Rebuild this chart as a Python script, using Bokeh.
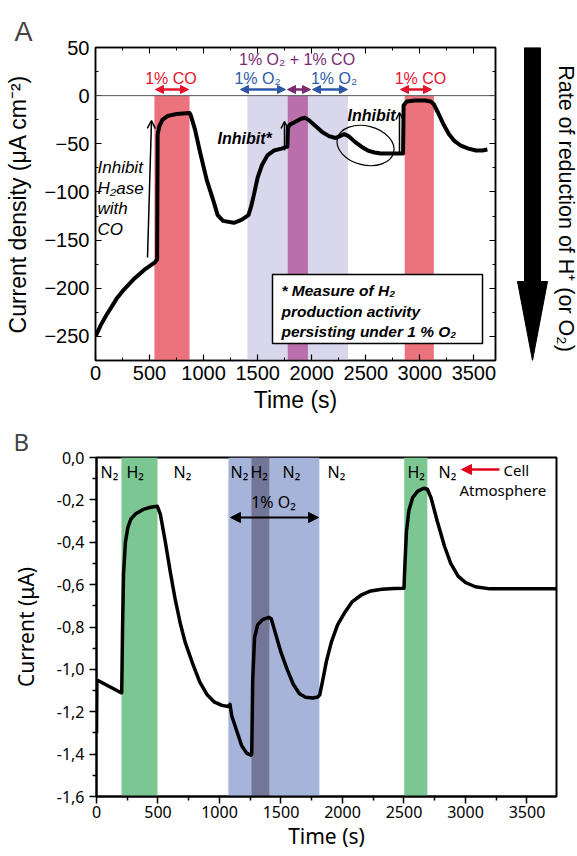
import math
from bokeh.plotting import figure
from bokeh.layouts import column, row
from bokeh.core.properties import value
from bokeh.models import (Range1d, LinearAxis, FixedTicker, CustomJSTickFormatter,
                          Label, Arrow, NormalHead, OpenHead, BoxAnnotation, Span)
from bokeh.embed import file_html
from bokeh.resources import INLINE

# ---------------- Panel A data ----------------
time_a = [0, 50, 100, 150, 200, 250, 300, 350, 400, 450, 500, 550, 570, 575, 590, 620, 670,
          750, 870, 880, 920, 970, 1030, 1090, 1130, 1180, 1280, 1350, 1415, 1440, 1465,
          1500, 1540, 1590, 1650, 1720, 1775, 1780, 1800, 1850, 1900, 1940, 1980, 2040,
          2100, 2160, 2220, 2260, 2300, 2340, 2400, 2460, 2520, 2580, 2640, 2720, 2800,
          2845, 2850, 2880, 2950, 3050, 3100, 3130, 3170, 3220, 3270, 3320, 3380, 3450,
          3520, 3580, 3625]
current_a = [-250, -238, -228, -219, -210, -203, -197, -191, -186, -181, -177, -173, -170,
             -40, -32, -25, -21, -19, -18, -20, -35, -60, -88, -109, -124, -130, -132, -129,
             -124, -115, -103, -85, -72, -62, -57, -55, -53, -33, -30, -27, -24, -23, -26,
             -32, -38, -42, -44, -42, -40, -42, -48, -53, -57, -59, -60, -60, -60, -60, -10,
             -6, -5, -5, -6, -9, -18, -30, -40, -47, -52, -55, -57, -57, -56]
co_start = [545, 2860]
co_end = [870, 3130]
o2_start = [1405, 1965]
o2_end = [1777, 2335]
mix_start = [1777]
mix_end = [1965]
a_xticks = [0, 500, 1000, 1500, 2000, 2500, 3000, 3500]
a_xminor = [250, 750, 1250, 1750, 2250, 2750, 3250]
a_yticks = [50, 0, -50, -100, -150, -200, -250]
a_yminor = [25, -25, -75, -125, -175, -225]

# ---------------- Panel B data ----------------
time_b = [0, 3, 20, 100, 200, 205, 212, 220, 235, 255, 280, 320, 380, 440, 495, 520, 560,
          600, 640, 680, 720, 780, 840, 900, 960, 1020, 1070, 1085, 1100, 1140, 1180, 1220,
          1255, 1262, 1270, 1285, 1310, 1350, 1400, 1420, 1460, 1500, 1550, 1600, 1650,
          1700, 1760, 1800, 1815, 1840, 1870, 1910, 1960, 2020, 2080, 2150, 2230, 2320,
          2420, 2500, 2508, 2520, 2540, 2570, 2610, 2660, 2690, 2720, 2770, 2830, 2880,
          2940, 3000, 3080, 3200, 3400, 3600, 3740]
current_b = [-1.30, -1.05, -1.055, -1.08, -1.11, -1.11, -0.80, -0.55, -0.40, -0.33, -0.29,
             -0.265, -0.245, -0.235, -0.23, -0.27, -0.40, -0.54, -0.67, -0.78, -0.87, -0.97,
             -1.06, -1.12, -1.155, -1.17, -1.175, -1.165, -1.22, -1.29, -1.36, -1.395,
             -1.405, -1.40, -1.05, -0.85, -0.79, -0.765, -0.755, -0.76, -0.84, -0.92, -1.00,
             -1.07, -1.115, -1.132, -1.135, -1.13, -1.12, -1.05, -0.96, -0.87, -0.79, -0.73,
             -0.68, -0.65, -0.63, -0.622, -0.618, -0.617, -0.50, -0.35, -0.25, -0.19, -0.16,
             -0.145, -0.15, -0.19, -0.30, -0.42, -0.50, -0.56, -0.59, -0.61, -0.62, -0.62,
             -0.62, -0.62]
h2_start = [203, 2502]
h2_end = [496, 2690]
o2b_start = [1072]
o2b_end = [1812]
h2o2_start = [1260]
h2o2_end = [1405]
b_xticks = [0, 500, 1000, 1500, 2000, 2500, 3000, 3500]
b_xminor = [250, 750, 1250, 1750, 2250, 2750, 3250]
b_yticks = [0.0, -0.2, -0.4, -0.6, -0.8, -1.0, -1.2, -1.4, -1.6]
b_yminor = [-0.1, -0.3, -0.5, -0.7, -0.9, -1.1, -1.3, -1.5]

# ---------------- layout geometry ----------------
XA0, XA1, YA0, YA1 = 0, 3700, -275, 50
A_L, A_T, A_W, A_H = 95, 47, 400, 313
A_TOTAL_H = 422
A_RIGHT_BORDER = 2
SIDE_W = 577 - A_L - A_W - A_RIGHT_BORDER
XB0, XB1, YB0, YB1 = 0, 3740, -1.6, 0.0
B_L, B_T, B_W = 96, 456, 460
B_BOTTOM_BORDER = 61
B_H = 856 - B_T - B_BOTTOM_BORDER


def ax(px):
    return XA0 + (px - A_L) / A_W * (XA1 - XA0)


def ay(py):
    return YA1 - (py - A_T) / A_H * (YA1 - YA0)


def bx(px):
    return XB0 + (px - B_L) / B_W * (XB1 - XB0)


def by(py):
    return YB1 - (py - B_T) / B_H * (YB1 - YB0)


FA = "Liberation Sans"
FB = "Noto Sans"
RED_BAND = "#eb737d"
LAV_BAND = "#d9d7eb"
MIX_BAND = "#b96fab"
RED_TXT = "#e3142b"
BLUE_TXT = "#2d58a8"
PURP_TXT = "#7b2a6f"
EMPTY = CustomJSTickFormatter(code="return '';")

# ================= Panel A =================
pA = figure(frame_width=A_W, frame_height=A_H, output_backend="svg", toolbar_location=None,
            x_range=Range1d(XA0, XA1), y_range=Range1d(YA0, YA1),
            min_border_left=A_L, min_border_right=A_RIGHT_BORDER,
            min_border_top=A_T, min_border_bottom=A_TOTAL_H - A_T - A_H)
pA.xgrid.grid_line_color = None
pA.ygrid.grid_line_color = None
pA.outline_line_color = "black"
pA.outline_line_width = 1.5
pA.background_fill_color = "white"
pA.border_fill_color = "white"
pA.title.text = "A"
pA.title.text_font = FA
pA.title.text_font_size = "27px"
pA.title.text_font_style = "normal"
pA.title.align = "left"
pA.title.offset = 14 - A_L
pA.title.standoff = 2

pA.quad(left=co_start, right=co_end, bottom=YA0, top=0, fill_color=RED_BAND, line_color=None)
pA.quad(left=o2_start, right=o2_end, bottom=YA0, top=0, fill_color=LAV_BAND, line_color=None)
pA.quad(left=mix_start, right=mix_end, bottom=YA0, top=0, fill_color=MIX_BAND, line_color=None)
pA.add_layout(Span(location=0, dimension="width", line_color="#555555", line_width=1))
pA.line(time_a, current_a, line_color="black", line_width=4, line_join="round")

for axis in (pA.xaxis[0], pA.yaxis[0]):
    axis.major_tick_in = 6
    axis.major_tick_out = 0
    axis.minor_tick_in = 3
    axis.minor_tick_out = 0
    axis.axis_line_width = 1.5
    axis.major_tick_line_width = 1.2
    axis.major_label_text_font = FA
    axis.major_label_text_font_size = "20px"
    axis.major_label_text_color = "black"
    axis.axis_label_text_font = FA
    axis.axis_label_text_font_size = "23px"
    axis.axis_label_text_font_style = "normal"
    axis.axis_label_text_color = "black"
pA.xaxis[0].ticker = FixedTicker(ticks=a_xticks, minor_ticks=a_xminor)
pA.yaxis[0].ticker = FixedTicker(ticks=a_yticks, minor_ticks=a_yminor)
pA.xaxis[0].axis_label = "Time (s)"
pA.xaxis[0].major_label_standoff = 5
pA.xaxis[0].axis_label_standoff = 4
pA.yaxis[0].axis_label = "Current density (\u03bcA cm\u207b\u00b2)"
pA.yaxis[0].major_label_standoff = 6
pA.yaxis[0].axis_label_standoff = 10

pA.add_layout(LinearAxis(ticker=FixedTicker(ticks=a_xticks, minor_ticks=a_xminor),
                         formatter=EMPTY, major_tick_in=6, major_tick_out=0,
                         minor_tick_in=3, minor_tick_out=0, axis_line_width=1.5,
                         major_label_standoff=0), "above")
pA.add_layout(LinearAxis(ticker=FixedTicker(ticks=a_yticks, minor_ticks=a_yminor),
                         formatter=EMPTY, major_tick_in=6, major_tick_out=0,
                         minor_tick_in=3, minor_tick_out=0, axis_line_width=1.5,
                         major_label_standoff=0), "right")


def lab(p, x, y, text, font, size, color="black", style="normal", align="left",
        baseline="middle"):
    p.add_layout(Label(x=x, y=y, text=text, text_font=font, text_font_size=size,
                       text_color=color, text_font_style=style, text_align=align,
                       text_baseline=baseline))


# top gas labels and double arrows
lab(pA, ax(170.5), ay(78), "1% CO", FA, "16px", RED_TXT, align="center")
lab(pA, ax(257), ay(78), "1% O\u2082", FA, "16px", BLUE_TXT, align="center")
lab(pA, ax(301), ay(59), "1%  O\u2082 + 1%  CO", FA, "16px", PURP_TXT, align="center")
lab(pA, ax(333.5), ay(78), "1% O\u2082", FA, "16px", BLUE_TXT, align="center")
lab(pA, ax(420), ay(78), "1% CO", FA, "16px", RED_TXT, align="center")


def dbl(p, x0, x1, y, color, size=8, width=2.5):
    p.add_layout(Arrow(x_start=x0, y_start=y, x_end=x1, y_end=y, line_color=color,
                       line_width=width,
                       start=NormalHead(size=size, fill_color=color, line_color=color),
                       end=NormalHead(size=size, fill_color=color, line_color=color)))


dbl(pA, ax(155), ax(188), ay(89), RED_TXT)
dbl(pA, ax(240), ax(285), ay(89), BLUE_TXT)
dbl(pA, ax(287), ax(310), ay(89), PURP_TXT)
dbl(pA, ax(312), ax(347), ay(89), BLUE_TXT)
dbl(pA, ax(400), ax(431), ay(89), RED_TXT)

# inhibit annotations
for txt, yy in (("Inhibit", 167), ("H\u2082ase", 187.5), ("with", 208), ("CO", 228.5)):
    lab(pA, ax(97), ay(yy), txt, FA, "17px", style="italic")
pA.add_layout(Arrow(x_start=ax(147), y_start=ay(257), x_end=ax(151), y_end=ay(120),
                    line_width=1.5, end=OpenHead(size=8, line_width=1.5)))
lab(pA, ax(217), ay(138), "Inhibit*", FA, "16px", style="bold italic")
pA.add_layout(Arrow(x_start=ax(284), y_start=ay(150), x_end=ax(284), y_end=ay(121),
                    line_width=1.5, end=OpenHead(size=7, line_width=1.5)))
lab(pA, ax(347), ay(115), "Inhibit", FA, "16px", style="bold italic")
pA.add_layout(Arrow(x_start=ax(399), y_start=ay(152), x_end=ax(399), y_end=ay(112),
                    line_width=1.5, end=OpenHead(size=7, line_width=1.5)))
pA.ellipse(x=[ax(365)], y=[ay(145)], width=58, height=39, angle=-0.25,
           width_units="screen", height_units="screen", fill_color=None,
           line_color="black", line_width=1.2)

# note box
pA.add_layout(BoxAnnotation(left=ax(272), right=ax(482), top=ay(274), bottom=ay(343),
                            fill_color="white", fill_alpha=1.0, line_color="black",
                            line_width=1.5, line_alpha=1.0))
for txt, yy in (("* Measure of H\u2082", 290), ("production activity", 310.5),
                ("persisting under 1 % O\u2082", 331)):
    lab(pA, ax(281), ay(yy), txt, FA, "15.5px", style="bold italic")

# ================= side panel (big arrow), frame aligned with panel A frame =================
SIDE_X0 = 577 - SIDE_W
pR = figure(frame_width=SIDE_W, frame_height=A_H, output_backend="svg", toolbar_location=None,
            title=None, x_range=Range1d(SIDE_X0, 577),
            y_range=Range1d(A_TOTAL_H - (A_T + A_H), A_TOTAL_H - A_T),
            x_axis_location=None, y_axis_location=None,
            min_border_left=0, min_border_right=0, min_border_top=A_T,
            min_border_bottom=A_TOTAL_H - A_T - A_H)
pR.outline_line_color = None
pR.grid.visible = False
pR.background_fill_color = "white"
pR.border_fill_color = "white"
arrow_px = [(524, 47), (540, 47), (540, 281), (547, 281), (532, 360), (517, 281), (524, 281)]
pR.patch([q[0] for q in arrow_px], [A_TOTAL_H - q[1] for q in arrow_px],
         fill_color="black", line_color="black", line_width=1)
pR.text(x=[565], y=[A_TOTAL_H - 208], text=["Rate of reduction of H\u207a (or O\u2082)"],
        angle=-math.pi / 2, text_font=value(FA), text_font_size=value("21.5px"),
        text_align="center", text_baseline="middle", text_color="black")

# ================= Panel B =================
B_TOP = B_T - A_TOTAL_H
pB = figure(frame_width=B_W, frame_height=B_H, output_backend="svg", toolbar_location=None,
            x_range=Range1d(XB0, XB1), y_range=Range1d(YB0, YB1),
            min_border_left=B_L, min_border_right=577 - B_L - B_W,
            min_border_top=B_TOP, min_border_bottom=B_BOTTOM_BORDER)
pB.xgrid.grid_line_color = None
pB.ygrid.grid_line_color = None
pB.outline_line_color = "black"
pB.outline_line_width = 2
pB.background_fill_color = "white"
pB.border_fill_color = "white"
pB.title.text = "B"
pB.title.text_font = FB
pB.title.text_font_size = "24px"
pB.title.text_font_style = "normal"
pB.title.align = "left"
pB.title.offset = 13 - B_L
pB.title.standoff = 0

pB.quad(left=h2_start, right=h2_end, bottom=YB0, top=YB1, fill_color="#7cc791", line_color=None)
pB.quad(left=o2b_start, right=o2b_end, bottom=YB0, top=YB1, fill_color="#a6b4d9", line_color=None)
pB.quad(left=h2o2_start, right=h2o2_end, bottom=YB0, top=YB1, fill_color="#747697",
        line_color=None)
pB.line(time_b, current_b, line_color="black", line_width=3.5, line_join="round")

for axis in (pB.xaxis[0], pB.yaxis[0]):
    axis.major_tick_in = 0
    axis.major_tick_out = 7
    axis.minor_tick_in = 0
    axis.minor_tick_out = 4
    axis.axis_line_width = 2
    axis.major_tick_line_width = 1.5
    axis.minor_tick_line_width = 1.5
    axis.major_label_text_font = FB
    axis.major_label_text_font_size = "16px"
    axis.major_label_text_color = "black"
    axis.axis_label_text_font = FB
    axis.axis_label_text_font_size = "21px"
    axis.axis_label_text_font_style = "normal"
    axis.axis_label_text_color = "black"
pB.xaxis[0].ticker = FixedTicker(ticks=b_xticks, minor_ticks=b_xminor)
pB.yaxis[0].ticker = FixedTicker(ticks=b_yticks, minor_ticks=b_yminor)
pB.yaxis[0].formatter = CustomJSTickFormatter(code="return tick.toFixed(1).replace('.', ',');")
pB.xaxis[0].axis_label = "Time (s)"
pB.xaxis[0].major_label_standoff = 2
pB.xaxis[0].axis_label_standoff = 1
pB.yaxis[0].axis_label = "Current (\u03bcA)"
pB.yaxis[0].major_label_standoff = 5
pB.yaxis[0].axis_label_standoff = 14

for txt, px in (("N\u2082", 100), ("H\u2082", 126), ("N\u2082", 173), ("N\u2082", 230),
                ("H\u2082", 250), ("N\u2082", 282), ("N\u2082", 327), ("H\u2082", 407),
                ("N\u2082", 438)):
    lab(pB, bx(px), by(470), txt, FB, "16px")
lab(pB, bx(503), by(468), "Cell", FB, "15px")
lab(pB, bx(459), by(488), "Atmosphere", FB, "15px")
pB.add_layout(Arrow(x_start=bx(499), y_start=by(468), x_end=bx(461), y_end=by(468),
                    line_color="#e3001b", line_width=2.5,
                    end=NormalHead(size=10, fill_color="#e3001b", line_color="#e3001b")))
lab(pB, bx(273), by(500), "1% O\u2082", FB, "16px", align="center")
dbl(pB, bx(230), bx(318), by(516), "black", size=10, width=2)

layout = column(row(pA, pR, spacing=0), pB, spacing=0)
open("out.html", "w").write(file_html(layout, INLINE))
